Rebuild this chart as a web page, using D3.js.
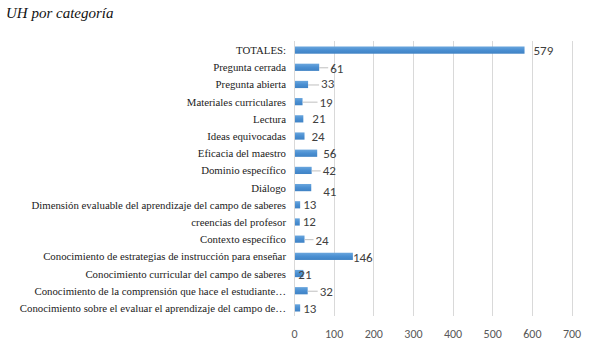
<!DOCTYPE html>
<html><head><meta charset="utf-8">
<script src="https://cdn.jsdelivr.net/npm/d3@7"></script>
<style>body{margin:0;background:#fff}svg{display:block}</style>
</head><body>
<script>
const categories = ["TOTALES:","Pregunta cerrada","Pregunta abierta","Materiales curriculares","Lectura","Ideas equivocadas","Eficacia del maestro","Dominio específico","Diálogo","Dimensión evaluable del aprendizaje del campo de saberes","creencias del profesor","Contexto específico","Conocimiento de estrategias de instrucción para enseñar","Conocimiento curricular del campo de saberes","Conocimiento de la comprensión que hace el estudiante…","Conocimiento sobre el evaluar el aprendizaje del campo de…"];
const values = [579,61,33,19,21,24,56,42,41,13,12,24,146,21,32,13];
const xTicks = [0,100,200,300,400,500,600,700];
// label layout offsets (px from bar end), as in the original Excel chart
const labelDx = [10,12,14,18,10,8,7,12,13,4,4,12,1,-4,13,4];
const labelDy = [0,1,-1,1,0,0,0,0,4,0,0,1,1,1,1,1];
const leader = [false,true,true,true,false,false,false,true,false,false,false,true,false,false,true,false];

const SERIF="'Liberation Serif'";
const SANS="Carlito";
const W=605,H=347;
const svg=d3.select("body").append("svg").attr("width",W).attr("height",H);
const defs=svg.append("defs");
const g=defs.append("linearGradient").attr("id","bg").attr("x1",0).attr("y1",0).attr("x2",0).attr("y2",1);
g.append("stop").attr("offset","0%").attr("stop-color","#6aa6dd");
g.append("stop").attr("offset","50%").attr("stop-color","#4a8fd2");
g.append("stop").attr("offset","100%").attr("stop-color","#3f82c4");

svg.append("text").style("font-family",SERIF).attr("x",6).attr("y",18).style("font-style","italic")
  .style("font-size","15px").attr("fill","#111").text("UH por categoría");

const x=d3.scaleLinear().domain([0,700]).range([294,571.5]);
const y=d3.scaleBand().domain(categories).range([41.5,316.5]).paddingInner(0.58).paddingOuter(0.29);

// gridlines
svg.append("g").selectAll("line").data(xTicks.slice(1)).join("line")
  .attr("x1",d=>Math.round(x(d))+0.5).attr("x2",d=>Math.round(x(d))+0.5)
  .attr("y1",41).attr("y2",316).attr("stroke","#d9d9d9").attr("stroke-width",1);
svg.append("line").attr("x1",294.5).attr("x2",294.5).attr("y1",41).attr("y2",316).attr("stroke","#d9d9d9");

// x axis tick labels
const ax=svg.append("g").attr("transform","translate(0,326)").call(d3.axisBottom(x).tickValues(xTicks).tickSize(0).tickFormat(d3.format("d")));
ax.attr("font-family",null);
ax.select(".domain").remove();
ax.selectAll("text").style("font-family",SANS).style("font-size","12px").attr("fill","#595959");

// bars
svg.append("g").selectAll("rect").data(values).join("rect")
  .attr("x",x(0)+1).attr("y",(d,i)=>y(categories[i]))
  .attr("width",d=>x(d)-x(0)).attr("height",y.bandwidth()).attr("fill","url(#bg)");

// category labels
svg.append("g").selectAll("text").data(categories).join("text").style("font-family",SERIF)
  .attr("x",286).attr("y",d=>y(d)+y.bandwidth()/2+4).attr("text-anchor","end")
  .style("font-size","10.8px").attr("fill","#222").text(d=>d);

// leader lines
svg.append("g").selectAll("line").data(values.map((v,i)=>({v,i})).filter(d=>leader[d.i])).join("line")
  .attr("x1",d=>x(d.v)+1).attr("x2",d=>x(d.v)+labelDx[d.i]-2)
  .attr("y1",d=>y(categories[d.i])+y.bandwidth()/2+0.5).attr("y2",d=>y(categories[d.i])+y.bandwidth()/2+0.5)
  .attr("stroke","#bfbfbf").attr("stroke-width",1);

// value labels
svg.append("g").selectAll("text").data(values).join("text").style("font-family",SANS)
  .attr("x",(d,i)=>x(d)+labelDx[i]).attr("y",(d,i)=>y(categories[i])+y.bandwidth()/2+4.5+labelDy[i])
  .style("font-size","13px").attr("fill","#404040").text(d=>d);
</script>
</body></html>
